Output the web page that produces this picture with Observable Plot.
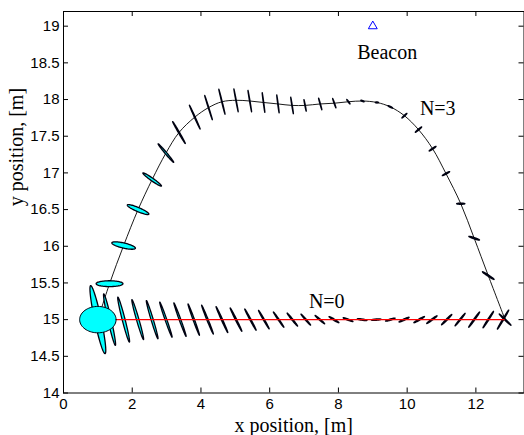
<!DOCTYPE html>
<html><head><meta charset="utf-8">
<script src="https://cdn.jsdelivr.net/npm/d3@7"></script>
<script src="https://cdn.jsdelivr.net/npm/@observablehq/plot@0.6"></script>
<style>body{margin:0;background:#fff} svg{display:block}</style>
</head><body><div id="chart"></div>
<script>
// ---- data ----
const xTicks = [0, 2, 4, 6, 8, 10, 12];
const yTicks = [14, 14.5, 15, 15.5, 16, 16.5, 17, 17.5, 18, 18.5, 19];

// beacon
const beaconX = [9.0];
const beaconY = [19.0];

// text annotations
const noteText = ["Beacon", "N=3", "N=0"];
const noteX = [9.42, 10.89, 7.66];
const noteY = [18.64, 17.88, 15.24];

// initial (prior) ellipse
const priorX = [1.0], priorY = [15.0], priorA = [0.53], priorB = [0.18], priorAng = [0];

// N=0 track (straight, red) and its ellipses
const n0LineX = [1.0, 12.82];
const n0LineY = [15.0, 15.0];
const n0X = [1.00, 1.34, 1.75, 2.16, 2.58, 2.98, 3.39, 3.79, 4.19, 4.61, 5.02, 5.44, 5.83, 6.26, 6.66, 7.05, 7.46, 7.87, 8.28, 8.69, 9.10, 9.51, 9.91, 10.35, 10.72, 11.15, 11.54, 11.95, 12.36, 12.79];
const n0Y = [15.0, 15.0, 15.0, 15.0, 15.0, 15.0, 15.0, 15.0, 15.0, 15.0, 15.0, 15.0, 15.0, 15.0, 15.0, 15.0, 15.0, 15.0, 15.0, 15.0, 15.0, 15.0, 15.0, 15.0, 15.0, 15.0, 15.0, 15.0, 15.0, 15.0];
const n0A = [0.51, 0.39, 0.35, 0.32, 0.31, 0.30, 0.29, 0.27, 0.26, 0.245, 0.233, 0.22, 0.20, 0.185, 0.177, 0.16, 0.15, 0.15, 0.145, 0.14, 0.14, 0.14, 0.15, 0.16, 0.16, 0.165, 0.17, 0.19, 0.19, 0.21];
const n0B = [0.09, 0.045, 0.038, 0.032, 0.028, 0.022, 0.02, 0.018, 0.016, 0.015, 0.014, 0.013, 0.012, 0.011, 0.011, 0.01, 0.01, 0.01, 0.009, 0.009, 0.009, 0.009, 0.01, 0.01, 0.01, 0.011, 0.011, 0.012, 0.012, 0.012];
const n0Ang = [115, 116, 119, 122, 123, 127, 128, 128, 131, 134, 137, 139, 141, 146, 150, 152, 158, 164, 170, 176, 2, 8, 12, 15, 19, 25, 30, 33, 36, 38];

// N=3 track (curved, black) and its ellipses
const n3StartX = 1.0, n3StartY = 15.0;
const n3X = [1.34, 1.75, 2.17, 2.58, 2.98, 3.36, 3.82, 4.22, 4.61, 5.02, 5.42, 5.82, 6.24, 6.65, 7.03, 7.47, 7.88, 8.29, 8.70, 9.12, 9.51, 9.92, 10.33, 10.74, 11.13, 11.56, 11.95, 12.36, 12.85];
const n3Y = [15.49, 16.01, 16.50, 16.91, 17.27, 17.55, 17.76, 17.89, 17.97, 17.99, 17.98, 17.96, 17.94, 17.92, 17.92, 17.94, 17.95, 17.97, 17.98, 17.96, 17.90, 17.78, 17.59, 17.33, 16.99, 16.58, 16.11, 15.60, 15.00];
const n3A = [0.39, 0.345, 0.32, 0.285, 0.26, 0.237, 0.225, 0.20, 0.193, 0.168, 0.155, 0.14, 0.127, 0.12, 0.086, 0.093, 0.08, 0.057, 0.05, 0.045, 0.07, 0.08, 0.10, 0.105, 0.11, 0.12, 0.157, 0.178, 0.187];
const n3B = [0.04, 0.036, 0.03, 0.022, 0.016, 0.012, 0.01, 0.008, 0.008, 0.007, 0.007, 0.007, 0.007, 0.007, 0.007, 0.007, 0.007, 0.007, 0.007, 0.007, 0.007, 0.007, 0.008, 0.008, 0.008, 0.008, 0.009, 0.01, 0.01];
const n3Ang = [0, 174, 169, 162, 151, 141, 134, 124, 118, 112, 110, 106, 106, 109, 113, 121, 127, 148, 170, 180, 167, 23, 21, 17, 14, 0, 171, 163, 156];

// ---- layout ----
const W = 524, H = 435, mL = 63, mR = 0.5, mT = 11, mB = 42.5;
const frameW = W - mL - mR, frameH = H - mT - mB;

function ellipses(prefix, X, Y, A, B, ANG) {
  const out = [];
  X.forEach((cx, i) => {
    const phi = ANG[i] * Math.PI / 180, cy = Y[i], a = A[i], b = B[i];
    for (let k = 0; k <= 72; k++) {
      const t = 2 * Math.PI * k / 72;
      out.push({
        id: prefix + i,
        x: cx + a * Math.cos(t) * Math.cos(phi) - b * Math.sin(t) * Math.sin(phi),
        y: cy + a * Math.cos(t) * Math.sin(phi) + b * Math.sin(t) * Math.cos(phi)
      });
    }
  });
  return out;
}

const n0Ell = ellipses("n0_", n0X, n0Y, n0A, n0B, n0Ang);
const n3Ell = ellipses("n3_", n3X, n3Y, n3A, n3B, n3Ang);
const priorEll = ellipses("p_", priorX, priorY, priorA, priorB, priorAng);
const n3Path = [{x: n3StartX, y: n3StartY}, ...n3X.map((x, i) => ({x, y: n3Y[i]}))];
const n0Path = n0LineX.map((x, i) => ({x, y: n0LineY[i]}));
const notes = noteText.map((t, i) => ({t, x: noteX[i], y: noteY[i]}));
const beacon = beaconX.map((x, i) => ({x, y: beaconY[i]}));

const ellStyle = {x: "x", y: "y", z: "id", fill: "#00ffff", stroke: "#000010", strokeWidth: 1.3, strokeLinejoin: "round", curve: "linear"};

const chart = Plot.plot({
  width: W, height: H,
  marginLeft: mL, marginRight: mR, marginTop: mT, marginBottom: mB,
  style: {fontFamily: "'Liberation Sans', Arial, sans-serif", fontSize: "15px", color: "#000", background: "#fff"},
  x: {domain: [0, 13.4], axis: null},
  y: {domain: [14, 19.2], axis: null},
  marks: [
    Plot.line(n3Path, {x: "x", y: "y", stroke: "#000", strokeWidth: 0.9, curve: "catmull-rom"}),
    Plot.line(n0Ell, ellStyle),
    Plot.line(n3Ell, ellStyle),
    Plot.line(n0Path, {x: "x", y: "y", stroke: "#ff0000", strokeWidth: 1.4}),
    Plot.line(priorEll, {...ellStyle, strokeWidth: 1}),
    Plot.dot(beacon, {x: "x", y: "y", symbol: "triangle", r: 3.3, stroke: "#0000ff", fill: "none", strokeWidth: 1}),
    Plot.text(notes, {x: "x", y: "y", text: "t", fontFamily: "'Liberation Serif', 'Times New Roman', serif", fontSize: 20, lineAnchor: "middle", fill: "#000"}),
    Plot.frame({stroke: "#000", strokeWidth: 1}),
    // inward ticks on all four sides
    Plot.tickX(xTicks, {x: d => d, insetTop: frameH - 5, stroke: "#000"}),
    Plot.tickX(xTicks, {x: d => d, insetBottom: frameH - 5, stroke: "#000"}),
    Plot.tickY(yTicks, {y: d => d, insetRight: frameW - 5, stroke: "#000"}),
    Plot.tickY(yTicks, {y: d => d, insetLeft: frameW - 5, stroke: "#000"}),
    Plot.axisX(xTicks, {anchor: "bottom", tickSize: 0, tickPadding: 5, tickFormat: d => String(d), label: null, fontSize: 15}),
    Plot.axisY(yTicks, {anchor: "left", tickSize: 0, tickPadding: 4, tickFormat: d => String(d), label: null, fontSize: 15}),
    Plot.text(["x position, [m]"], {frameAnchor: "bottom", text: d => d, dy: 38.5, lineAnchor: "bottom", fontFamily: "'Liberation Serif', 'Times New Roman', serif", fontSize: 20, fill: "#000"}),
    Plot.text(["y position, [m]"], {frameAnchor: "left", text: d => d, dx: -41, dy: 4, rotate: -90, lineAnchor: "bottom", fontFamily: "'Liberation Serif', 'Times New Roman', serif", fontSize: 20, fill: "#000"})
  ]
});
document.getElementById("chart").appendChild(chart);
</script>
</body></html>
